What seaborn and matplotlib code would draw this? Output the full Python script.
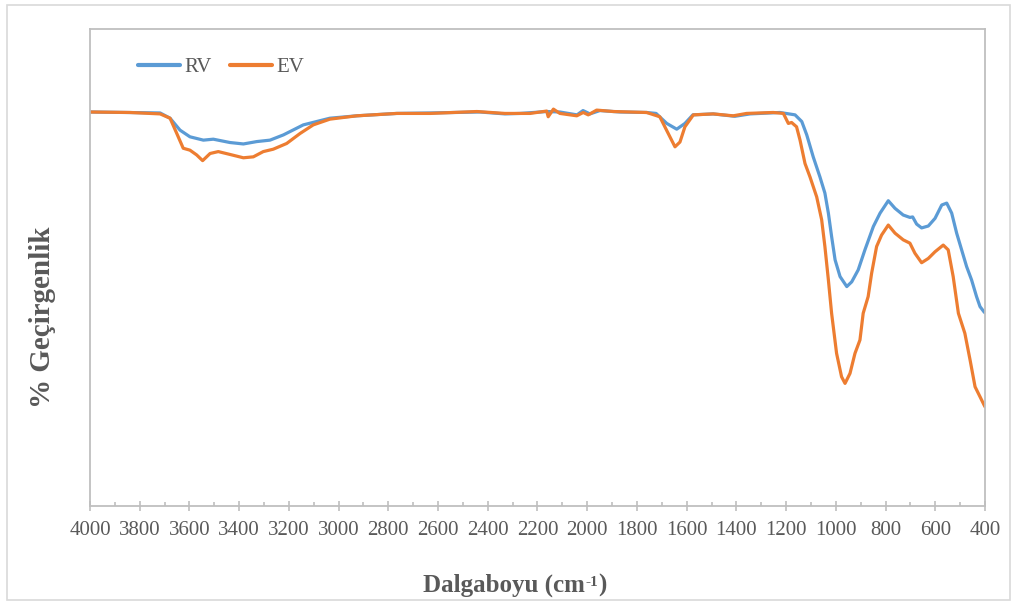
import numpy as np
import pandas as pd
import matplotlib
matplotlib.use("Agg")
import matplotlib.pyplot as plt
from matplotlib.patches import Rectangle
from matplotlib.ticker import MultipleLocator
import seaborn as sns

# FTIR spectra (wavenumber in cm-1, transmittance in %)
rv_wavenumber = [4000, 3718, 3678, 3638, 3598, 3544, 3504, 3437, 3383, 3329, 3276, 3222,
                 3142, 3035, 2927, 2766, 2632, 2431, 2331, 2270, 2162, 2110, 2041, 2017,
                 1989, 1949, 1868, 1761, 1723, 1680, 1640, 1607, 1575, 1494, 1406, 1345,
                 1225, 1164, 1137, 1117, 1091, 1064, 1044, 1030, 1017, 1003, 983, 956,
                 936, 910, 883, 849, 822, 789, 762, 729, 702, 691, 675, 655, 628, 601,
                 574, 554, 534, 514, 494, 474, 454, 434, 420, 404, 400]
rv_transmittance = [82.6, 82.4, 81.3, 78.8, 77.4, 76.7, 76.9, 76.2, 75.9, 76.4, 76.7, 77.8,
                    79.9, 81.3, 81.8, 82.3, 82.4, 82.6, 82.2, 82.3, 82.7, 82.6, 82.0, 82.9,
                    82.2, 82.9, 82.6, 82.5, 82.3, 80.2, 79.0, 80.2, 82.0, 82.2, 81.7, 82.2,
                    82.5, 82.0, 80.6, 77.8, 73.2, 69.0, 65.6, 61.4, 56.5, 51.6, 48.1, 46.0,
                    47.0, 49.5, 53.7, 58.6, 61.4, 64.0, 62.4, 61.0, 60.5, 60.6, 59.1, 58.3,
                    58.7, 60.3, 63.1, 63.5, 61.4, 57.2, 53.7, 50.2, 47.4, 43.9, 41.8, 40.7,
                    40.5]

ev_wavenumber = [4000, 3839, 3718, 3678, 3651, 3625, 3598, 3571, 3547, 3517, 3484, 3437,
                 3383, 3343, 3303, 3263, 3209, 3155, 3102, 3035, 2927, 2766, 2632, 2444,
                 2331, 2230, 2163, 2157, 2136, 2110, 2042, 2016, 1996, 1962, 1895, 1761,
                 1708, 1681, 1647, 1627, 1607, 1573, 1493, 1413, 1359, 1252, 1211, 1191,
                 1178, 1158, 1144, 1124, 1104, 1077, 1057, 1044, 1030, 1017, 997, 977,
                 963, 943, 923, 903, 890, 870, 856, 836, 816, 789, 762, 729, 702, 682,
                 655, 628, 601, 568, 548, 528, 507, 481, 460, 440, 420, 404, 400]
ev_transmittance = [82.6, 82.5, 82.2, 81.3, 78.1, 75.0, 74.6, 73.6, 72.4, 73.9, 74.3, 73.7,
                    73.0, 73.2, 74.3, 74.8, 76.0, 78.1, 79.9, 81.1, 81.8, 82.3, 82.3, 82.7,
                    82.3, 82.3, 82.8, 81.6, 83.2, 82.3, 81.8, 82.5, 82.0, 83.0, 82.7, 82.5,
                    81.6, 78.8, 75.3, 76.3, 79.5, 82.0, 82.2, 81.8, 82.3, 82.5, 82.3, 80.2,
                    80.4, 79.5, 76.7, 71.8, 69.0, 64.8, 60.0, 54.4, 47.4, 40.4, 32.0, 27.1,
                    25.7, 27.8, 32.0, 34.8, 40.4, 43.9, 48.8, 54.4, 56.8, 58.9, 57.2, 55.8,
                    55.1, 53.0, 51.0, 51.9, 53.3, 54.7, 53.7, 48.1, 40.4, 36.2, 30.6, 25.0,
                    22.9, 21.2, 20.8]

series_names = ["RV", "EV"]
series_colors = ["#5B9BD5", "#ED7D31"]
x_ticks = list(range(400, 4001, 200))

spectra = pd.concat([
    pd.DataFrame({"wavenumber": rv_wavenumber, "transmittance": rv_transmittance, "sample": "RV"}),
    pd.DataFrame({"wavenumber": ev_wavenumber, "transmittance": ev_transmittance, "sample": "EV"}),
], ignore_index=True)

sns.set_theme(style="white")
plt.rcParams["font.family"] = ["Liberation Serif", "DejaVu Serif"]

text_gray = "#595959"
axis_gray = "#BFBFBF"

fig = plt.figure(figsize=(10.14, 6.03), dpi=100)
ax = fig.add_axes([90 / 1014, 1 - 506 / 603, 895 / 1014, 477 / 603])

sns.lineplot(data=spectra, x="wavenumber", y="transmittance", hue="sample",
             hue_order=series_names, palette=series_colors, estimator=None,
             sort=False, linewidth=2.3, ax=ax)

ax.set_xlim(4000, 400)
ax.set_ylim(0, 100)
ax.set_xticks(x_ticks)
ax.xaxis.set_minor_locator(MultipleLocator(100))
ax.set_yticks([])
ax.tick_params(axis="x", which="major", direction="inout", length=7, width=1.2,
               color=axis_gray, labelsize=15, labelcolor=text_gray, pad=7, bottom=True)
ax.tick_params(axis="x", which="minor", direction="in", length=3, width=1.2,
               color=axis_gray, bottom=True)
for spine in ax.spines.values():
    spine.set_color(axis_gray)
    spine.set_linewidth(1.3)
ax.set_xlabel("")
ax.set_ylabel("")

handles, labels = ax.get_legend_handles_labels()
for h in handles:
    h.set_linewidth(3.0)
ax.legend(handles, labels, ncol=2, loc="upper left", bbox_to_anchor=(0.054, 0.940),
          frameon=False, fontsize=15, handlelength=2.0, handletextpad=0.2,
          columnspacing=0.9, borderaxespad=0, borderpad=0, labelcolor=text_gray)

# x-axis title with a superscript exponent
label_style = dict(fontweight="bold", color=text_gray)
xt_main = fig.text(423 / 1014, 1 - 592 / 603, "Dalgaboyu (cm", ha="left", va="baseline",
                   fontsize=18, **label_style)
xt_sup = ax.annotate("-1", xy=(1, 0), xycoords=xt_main, xytext=(0.3, 8.5),
                     textcoords="offset points", ha="left", va="baseline",
                     fontsize=11, annotation_clip=False, **label_style)
ax.annotate(")", xy=(1, 0), xycoords=(xt_sup, xt_main), xytext=(0.3, 0),
            textcoords="offset points", ha="left", va="bottom",
            fontsize=18, annotation_clip=False, **label_style)

fig.text(42.5 / 1014, 1 - 317.5 / 603, "% Geçirgenlik", ha="center", va="center",
         rotation=90, fontsize=21, **label_style)

fig.patches.append(Rectangle((7 / 1014, 3 / 603), 1003 / 1014, 595 / 603,
                             transform=fig.transFigure, fill=False,
                             edgecolor="#D9D9D9", linewidth=1.2))

fig.savefig("out.png", dpi=100)
